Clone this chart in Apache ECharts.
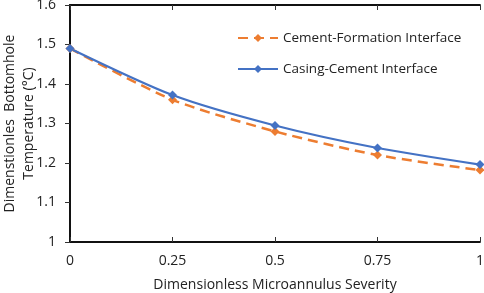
<!DOCTYPE html>
<html>
<head>
<meta charset="utf-8">
<script src="https://cdn.jsdelivr.net/npm/echarts@6/dist/echarts.min.js"></script>
<style>
  html, body { margin: 0; padding: 0; background: #fff; }
  #chart { width: 484px; height: 293px; }
</style>
</head>
<body>
<div id="chart"></div>
<script>
// severity values on x, temperatures
const severity = [0, 0.25, 0.5, 0.75, 1];
const cementFormation = [1.49, 1.36, 1.28, 1.22, 1.182];
const casingCement = [1.49, 1.372, 1.295, 1.238, 1.196];
const seriesNames = ["Cement-Formation Interface", "Casing-Cement Interface"];

function pairs(xs, ys) {
  return xs.map((x, i) => [x, ys[i]]);
}

let myChart = echarts.init(document.getElementById("chart"));
let font = "Open Sans";
let option = {
  animation: false,
  textStyle: { fontFamily: font },
  grid: { left: 70, right: 4, top: 5, bottom: 51, outerBoundsMode: "none" },
  legend: {
    left: 232,
    top: 26,
    orient: "vertical",
    itemWidth: 40,
    itemHeight: 10,
    itemGap: 17,
    textStyle: { fontSize: 13.5, color: "#222", fontFamily: font },
    data: seriesNames
  },
  xAxis: [
    {
      type: "value",
      min: 0,
      max: 1,
      interval: 0.25,
      name: "Dimensionless Microannulus Severity",
      nameLocation: "middle",
      nameGap: 36,
      nameMoveOverlap: false,
      nameTextStyle: { fontSize: 14, color: "#222" },
      axisLine: { lineStyle: { color: "#111", width: 1.8 } },
      axisTick: { inside: true, length: 5, lineStyle: { color: "#333" } },
      axisLabel: { fontSize: 14, color: "#222", margin: 12 },
      splitLine: { show: false }
    },
    {
      type: "value",
      position: "top",
      min: 0,
      max: 1,
      interval: 0.25,
      axisLine: { show: true, lineStyle: { color: "#111", width: 1.8 } },
      axisTick: { inside: true, length: 5, lineStyle: { color: "#333" } },
      axisLabel: { show: false },
      splitLine: { show: false }
    }
  ],
  yAxis: [
    {
      type: "value",
      min: 1,
      max: 1.6,
      interval: 0.1,
      name: "Dimenstionles  Bottomhole\nTemperature (°C)",
      nameLocation: "middle",
      nameGap: 31,
      nameMoveOverlap: false,
      nameTextStyle: { fontSize: 14, color: "#222", lineHeight: 19 },
      axisLine: { show: true, lineStyle: { color: "#111", width: 1.8 } },
      axisTick: { show: false },
      axisLabel: { fontSize: 14, color: "#222", margin: 14 },
      splitLine: { show: false }
    },
    {
      type: "value",
      position: "right",
      min: 1,
      max: 1.6,
      interval: 0.1,
      axisLine: { show: true, lineStyle: { color: "#111", width: 1.8 } },
      axisTick: { inside: true, length: 5, lineStyle: { color: "#333" } },
      axisLabel: { show: false },
      splitLine: { show: false }
    }
  ],
  series: [
    {
      name: seriesNames[0],
      type: "line",
      data: pairs(severity, cementFormation),
      smooth: 0.25,
      symbol: "diamond",
      symbolSize: 9,
      itemStyle: { color: "#ED7D31" },
      lineStyle: { color: "#ED7D31", width: 2.5, type: [10, 6] }
    },
    {
      name: seriesNames[1],
      type: "line",
      data: pairs(severity, casingCement),
      smooth: 0.25,
      symbol: "diamond",
      symbolSize: 9,
      itemStyle: { color: "#4472C4" },
      lineStyle: { color: "#4472C4", width: 2.2 }
    }
  ]
};

if (option && typeof option === "object") myChart.setOption(option);
</script>
</body>
</html>
